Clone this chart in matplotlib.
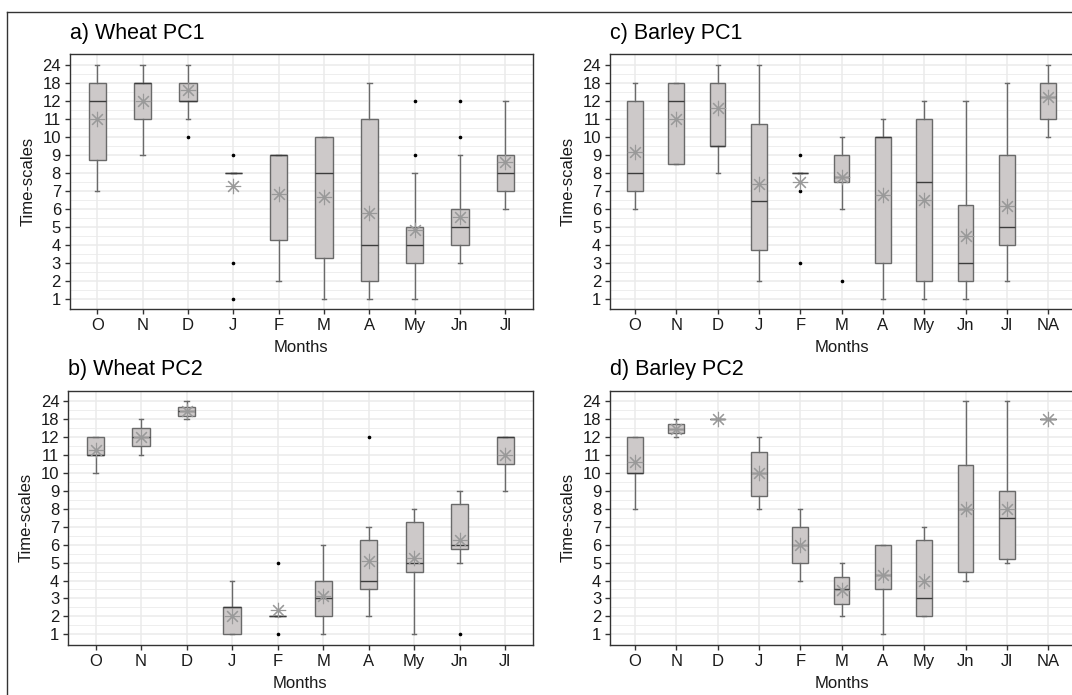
import numpy as np
import matplotlib
matplotlib.use("Agg")
import matplotlib.pyplot as plt
from matplotlib.lines import Line2D

plt.rcParams['font.family'] = ['Liberation Sans', 'DejaVu Sans']

# y axis is categorical-like: 1..12, 18, 24 equally spaced
tick_vals = [1, 2, 3, 4, 5, 6, 7, 8, 9, 10, 11, 12, 18, 24]
tick_pos = np.arange(1, len(tick_vals) + 1)

months10 = ['O', 'N', 'D', 'J', 'F', 'M', 'A', 'My', 'Jn', 'Jl']
months11 = months10 + ['NA']

# a) Wheat PC1
wpc1_lo = [7, 9, 11, 8, 2, 1, 1, 1, 3, 6]
wpc1_q1 = [8.7, 11, 12, 8, 4.25, 3.25, 2, 3, 4, 7]
wpc1_med = [12, 18, 12, 8, 9, 8, 4, 4, 5, 8]
wpc1_q3 = [18, 18, 18, 8, 9, 10, 11, 5, 6, 9]
wpc1_hi = [24, 24, 24, 8, 9, 10, 18, 8, 9, 12]
wpc1_mean = [11, 12, 15.6, 7.26, 6.83, 6.64, 5.76, 4.79, 5.54, 8.58]
wpc1_out = [[], [], [10], [9, 3, 1], [], [], [], [9, 12], [10, 12], []]

# b) Wheat PC2
wpc2_lo = [10, 11, 18, 1, 2, 1, 2, 1, 5, 9]
wpc2_q1 = [11, 11.5, 19.2, 1, 2, 2, 3.5, 4.5, 5.75, 10.5]
wpc2_med = [11, 12, 20.9, 2.5, 2, 3, 4, 5, 6, 12]
wpc2_q3 = [12, 15, 22.1, 2.5, 2, 4, 6.25, 7.25, 8.25, 12]
wpc2_hi = [12, 18, 24, 4, 2, 6, 7, 8, 9, 12]
wpc2_mean = [11.31, 12, 20.9, 2, 2.38, 3.14, 5.1, 5.27, 6.28, 11]
wpc2_out = [[], [], [], [], [5, 1], [], [12], [], [1], []]

# c) Barley PC1
bpc1_lo = [6, 8.5, 8, 2, 8, 6, 1, 1, 1, 2, 10]
bpc1_q1 = [7, 8.5, 9.5, 3.71, 8, 7.5, 3, 2, 2, 4, 11]
bpc1_med = [8, 12, 9.5, 6.45, 8, 7.76, 10, 7.5, 3, 5, 13.4]
bpc1_q3 = [12, 18, 18, 10.71, 8, 9, 10, 11, 6.23, 9, 18]
bpc1_hi = [18, 18, 24, 24, 8, 10, 11, 12, 12, 18, 24]
bpc1_mean = [9.14, 11.01, 11.59, 7.37, 7.5, 7.76, 6.75, 6.47, 4.47, 6.16, 13.4]
bpc1_out = [[], [], [], [], [9, 7, 3], [2], [], [], [], [], []]

# d) Barley PC2
bpc2_lo = [8, 12, 18, 8, 4, 2, 1, 2, 4, 5, 18]
bpc2_q1 = [10, 13.4, 18, 8.7, 5, 2.71, 3.5, 2, 4.5, 5.23, 18]
bpc2_med = [10, 14.7, 18, 10, 6, 3.5, 4.3, 3, 8, 7.47, 18]
bpc2_q3 = [12, 16.4, 18, 11.2, 7, 4.22, 6, 6.24, 10.47, 9, 18]
bpc2_hi = [12, 18, 18, 12, 8, 5, 6, 7, 24, 24, 18]
bpc2_mean = [10.64, 14.7, 18, 10, 6, 3.48, 4.3, 4, 8, 8, 18]
bpc2_out = [[] for _ in range(11)]


def to_pos(v):
    return np.interp(v, tick_vals, tick_pos)


def draw_panel(ax, title, months, lo, q1, med, q3, hi, mean, out):
    stats = []
    for i in range(len(months)):
        stats.append(dict(whislo=to_pos(lo[i]), q1=to_pos(q1[i]), med=to_pos(med[i]),
                          q3=to_pos(q3[i]), whishi=to_pos(hi[i]), mean=to_pos(mean[i]),
                          fliers=to_pos(np.array(out[i], dtype=float))))
    x = np.arange(1, len(months) + 1)
    ax.bxp(stats, positions=x, widths=0.38, showmeans=True, patch_artist=True,
           capwidths=0.1,
           boxprops=dict(facecolor='#cdc9c9', edgecolor='#6a6a6a', linewidth=1.0),
           whiskerprops=dict(color='#6a6a6a', linewidth=1.0),
           capprops=dict(color='#6a6a6a', linewidth=1.0),
           medianprops=dict(color='#3c3c3c', linewidth=1.0),
           meanprops=dict(marker=(8, 2, 0), markersize=11, markeredgecolor='#999999',
                          markerfacecolor='#999999', markeredgewidth=0.8),
           flierprops=dict(marker='o', markersize=1.6, markerfacecolor='black',
                           markeredgecolor='black'))
    ax.set_xlim(0.4, len(months) + 0.6)
    ax.set_ylim(0.4, len(tick_vals) + 0.6)
    ax.set_yticks(tick_pos)
    ax.set_yticklabels([str(v) for v in tick_vals])
    ax.set_yticks(tick_pos[:-1] + 0.5, minor=True)
    ax.set_xticks(x)
    ax.set_xticklabels(months)
    ax.grid(True, which='major', color='#ebebeb', linewidth=1.1)
    ax.grid(True, which='minor', axis='y', color='#ebebeb', linewidth=0.6)
    ax.set_axisbelow(True)
    ax.tick_params(axis='both', which='major', labelsize=12, length=3.5, width=1,
                   color='#333333', labelcolor='#1a1a1a', pad=3)
    ax.tick_params(axis='y', which='minor', length=0)
    for s in ax.spines.values():
        s.set_color('#333333')
        s.set_linewidth(1.0)
    ax.set_xlabel('Months', fontsize=12, color='#1a1a1a', labelpad=5)
    ax.set_ylabel('Time-scales', fontsize=12, color='#1a1a1a', labelpad=5)
    ax.set_title(title, loc='left', fontsize=15.5, x=0.0, pad=11)


W, H = 1072, 695
fig = plt.figure(figsize=(W / 100, H / 100), dpi=100)


def add_ax(left, top, right, bottom):
    return fig.add_axes([left / W, 1 - bottom / H, (right - left) / W, (bottom - top) / H])


ax_a = add_ax(70, 54.3, 532.5, 309.3)
ax_c = add_ax(610.2, 54.3, 1073, 309.3)
ax_b = add_ax(68.3, 390.7, 532.5, 645)
ax_d = add_ax(610.2, 390.7, 1073, 645)

draw_panel(ax_a, 'a) Wheat PC1', months10, wpc1_lo, wpc1_q1, wpc1_med, wpc1_q3, wpc1_hi, wpc1_mean, wpc1_out)
draw_panel(ax_b, 'b) Wheat PC2', months10, wpc2_lo, wpc2_q1, wpc2_med, wpc2_q3, wpc2_hi, wpc2_mean, wpc2_out)
draw_panel(ax_c, 'c) Barley PC1', months11, bpc1_lo, bpc1_q1, bpc1_med, bpc1_q3, bpc1_hi, bpc1_mean, bpc1_out)
draw_panel(ax_d, 'd) Barley PC2', months11, bpc2_lo, bpc2_q1, bpc2_med, bpc2_q3, bpc2_hi, bpc2_mean, bpc2_out)

# outer frame (cut off at right and bottom)
fig.add_artist(Line2D([7 / W, 7 / W], [0, 1 - 12 / H], color='#333333', linewidth=1.0))
fig.add_artist(Line2D([7 / W, 1], [1 - 12 / H, 1 - 12 / H], color='#333333', linewidth=1.0))

fig.savefig('out.png', dpi=100)
